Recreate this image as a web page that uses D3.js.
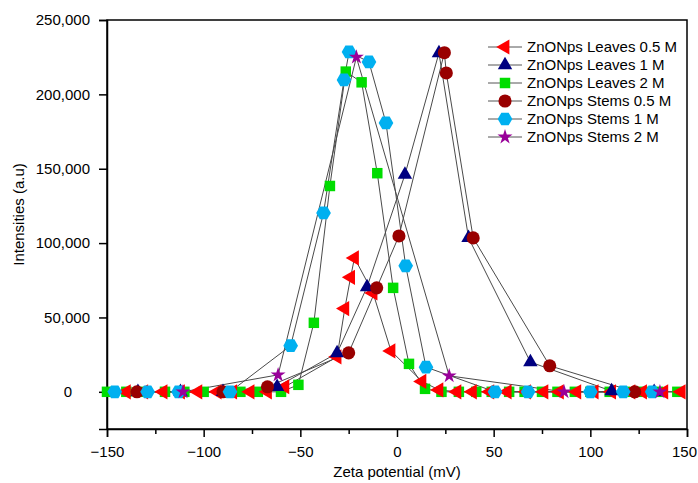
<!DOCTYPE html>
<html><head><meta charset="utf-8">
<script src="https://cdn.jsdelivr.net/npm/d3@7"></script>
<style>body{margin:0;background:#fff}svg{display:block}text{font-family:Arial,"Liberation Sans",sans-serif}</style>
</head><body><svg id="c" width="698" height="483"></svg>
<script>
const seriesNames = ["ZnONps Leaves 0.5 M","ZnONps Leaves 1 M","ZnONps Leaves 2 M","ZnONps Stems 0.5 M","ZnONps Stems 1 M","ZnONps Stems 2 M"];
const leaves05X = [-140,-131,-121,-112,-103,-93,-85,-76,-67,-58,-31,-27,-24,-22,-12.4,-3.1,12.9,21.7,31,39,48,57,67,76,84,93,102,111,121,127,138,147];
const leaves05Y = [0,0,0,0,0,0,0,0,0,3400,23500,56000,77000,90000,66500,27500,7000,1300,0,0,0,0,0,0,0,0,0,0,0,0,0,0];
const leaves1X = [-134,-112,-90,-62,-31,-15.5,4.1,21.7,37,69,111,133];
const leaves1Y = [0,0,0,3400,26000,70500,146000,227800,103500,20000,500,0];
const leaves2X = [-150,-140,-130,-120,-110,-100,-90,-81,-72,-60,-51,-43,-34.7,-26.5,-18.3,-10.2,-2,6.2,14.5,23,32,41,49,58,66,75,83,92,100,110,118,127,135,145];
const leaves2Y = [0,0,0,0,0,0,0,0,0,0,4700,46400,138400,215300,208100,147000,69900,18800,2000,0,0,0,0,0,0,0,0,0,0,0,0,0,0,0];
const stems05X = [-134.5,-90,-67,-25,-10.5,1,24.5,25.5,39.4,79,123];
const stems05Y = [0,0,3400,26200,69900,104800,228000,214400,103500,17500,0];
const stems1X = [-146,-129,-113,-86.4,-55,-38,-27.4,-24.8,-14.5,-5.7,4.5,15,50.7,67.8,100,117,132];
const stems1Y = [0,0,0,0,31000,120300,209700,228500,221800,180800,84700,16600,0,0,0,0,0];
const stems2X = [-110.7,-61.5,-21,27,86.4,136];
const stems2Y = [0,11400,225000,10750,0,0];
const xTicks = [-150,-100,-50,0,50,100,150];
const yTicks = [0,50000,100000,150000,200000,250000];

const svg = d3.select("#c");
const L=107,R=687,T=20,B=429;
const x = d3.scaleLinear().domain([-150,150]).range([L,R]);
const y = d3.scaleLinear().domain([-25000,250000]).range([B,T]);

const hexagon = {draw(ctx,size){const r=Math.sqrt(size/(1.5*Math.sqrt(3)));for(let i=0;i<6;i++){const a=Math.PI/3*i;const px=r*Math.cos(a),py=r*Math.sin(a);i?ctx.lineTo(px,py):ctx.moveTo(px,py);}ctx.closePath();}};
const styles = [
 {name:seriesNames[0],xs:leaves05X,ys:leaves05Y,color:"#ff0000",type:d3.symbolTriangle,size:100,rot:-90},
 {name:seriesNames[1],xs:leaves1X,ys:leaves1Y,color:"#000080",type:d3.symbolTriangle,size:90,rot:0},
 {name:seriesNames[2],xs:leaves2X,ys:leaves2Y,color:"#00dd00",type:d3.symbolSquare,size:110,rot:0},
 {name:seriesNames[3],xs:stems05X,ys:stems05Y,color:"#990000",type:d3.symbolCircle,size:135,rot:0},
 {name:seriesNames[4],xs:stems1X,ys:stems1Y,color:"#00b0f0",type:hexagon,size:140,rot:0},
 {name:seriesNames[5],xs:stems2X,ys:stems2Y,color:"#990099",type:d3.symbolStar,size:70,rot:0}
];

// frame
svg.append("rect").attr("x",L).attr("y",T).attr("width",R-L).attr("height",B-T).attr("fill","none").attr("stroke","#000").attr("stroke-width",1.5);

// axes
const xAxis = d3.axisBottom(x).tickValues(xTicks).tickSize(8).tickFormat(d=>d<0?"\u2212"+Math.abs(d):d);
const gx = svg.append("g").attr("transform",`translate(0,${B})`).call(xAxis);
gx.select(".domain").attr("stroke-width",1.5);
gx.selectAll(".tick line").attr("stroke-width",1.5);
gx.selectAll("text").attr("font-size",15).attr("dy","1.1em").attr("fill","#000");
gx.selectAll(".tick").filter(d=>d===150).select("text").attr("dx",-3);
svg.append("g").attr("transform",`translate(0,${B})`).call(d3.axisBottom(x).tickValues(d3.range(-125,150,50)).tickSize(5).tickFormat(""))
  .call(g=>{g.select(".domain").remove();g.selectAll("line").attr("stroke-width",1.5);});

const yAxis = d3.axisLeft(y).tickValues(yTicks).tickSize(8).tickFormat(d3.format(","));
const gy = svg.append("g").attr("transform",`translate(${L},0)`).call(yAxis);
gy.select(".domain").attr("stroke-width",1.5);
gy.selectAll(".tick line").attr("stroke-width",1.5);
gy.selectAll("text").attr("font-size",15).attr("x",-17).attr("fill","#000");
gy.selectAll(".tick").filter(d=>d===0).select("text").attr("x",-35);

svg.append("text").attr("x",x(0)).attr("y",477).attr("text-anchor","middle").attr("font-size",15).text("Zeta potential (mV)");
svg.append("text").attr("transform",`translate(24,${(T+B)/2 - 10}) rotate(-90)`).attr("text-anchor","middle").attr("font-size",15).text("Intensities (a.u)");

// lines
const line = d3.line().x(d=>x(d[0])).y(d=>y(d[1]));
styles.forEach(s=>{
  const pts = s.xs.map((v,i)=>[v,s.ys[i]]);
  svg.append("path").attr("d",line(pts)).attr("fill","none").attr("stroke","#4a4a4a").attr("stroke-width",1);
});
const order=[2,0,1,3,4,5];
order.forEach(k=>{
  const s=styles[k];
  const sym=d3.symbol().type(s.type).size(s.size);
  svg.append("g").selectAll("path").data(s.xs.map((v,i)=>[v,s.ys[i]])).join("path")
    .attr("d",sym).attr("fill",s.color)
    .attr("transform",d=>`translate(${x(d[0])},${y(d[1])}) rotate(${s.rot})`);
});

// legend
const lg = svg.append("g");
styles.forEach((s,i)=>{
  const yy = 47 + i*18;
  lg.append("line").attr("x1",488).attr("x2",522).attr("y1",yy).attr("y2",yy).attr("stroke","#555").attr("stroke-width",1);
  lg.append("path").attr("d",d3.symbol().type(s.type).size(s.size)()).attr("fill",s.color).attr("transform",`translate(505,${yy}) rotate(${s.rot})`);
  lg.append("text").attr("x",527).attr("y",yy).attr("dy","0.35em").attr("font-size",15).text(s.name);
});
</script></body></html>
